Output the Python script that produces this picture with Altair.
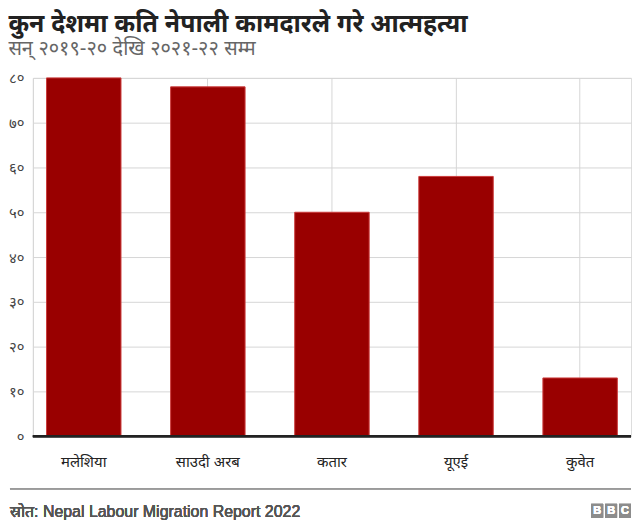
import altair as alt
import pandas as pd

countries = ['मलेशिया', 'साउदी अरब', 'कतार', 'यूएई', 'कुवेत']
suicides = [80, 78, 50, 58, 13]
y_ticks = [0, 10, 20, 30, 40, 50, 60, 70, 80]
y_tick_labels = ['०', '१०', '२०', '३०', '४०', '५०', '६०', '७०', '८०']
title_text = 'कुन देशमा कति नेपाली कामदारले गरे आत्महत्या'
subtitle_text = 'सन् २०१९-२० देखि २०२१-२२ सम्म'
source_text = 'स्रोत: Nepal Labour Migration Report 2022'
logo_letters = ['B', 'B', 'C']

df = pd.DataFrame({'country': countries, 'value': suicides})

label_expr = ('[' + ','.join(f"'{s}'" for s in y_tick_labels) + '][indexof(['
              + ','.join(str(v) for v in y_ticks) + '], datum.value)]')

W, H = 601, 360
FONT = 'Liberation Sans, Noto Sans, sans-serif'

base = alt.Chart(df)

bars = base.mark_bar(color='#990000', stroke='#cc3b3b', strokeWidth=1).encode(
    x=alt.X('country:N', sort=countries,
            scale=alt.Scale(paddingInner=0.4, paddingOuter=0.11),
            axis=alt.Axis(title=None, labelAngle=0, labelFontSize=15, labelColor='#222',
                          labelPadding=18, ticks=False, domain=False, grid=True,
                          gridColor='#d6d6d6', bandPosition=0.5, labelFont=FONT)),
    y=alt.Y('value:Q', scale=alt.Scale(domain=[0, 80], nice=False),
            axis=alt.Axis(values=y_ticks, labelExpr=label_expr, title=None, ticks=False,
                          domainColor='#d6d6d6', gridColor='#d6d6d6', labelPadding=9,
                          labelFontSize=15, labelColor='#444', labelFont=FONT)),
)

baseline = base.mark_rule(color='#222', strokeWidth=2).encode(y=alt.datum(0))

footer_line = base.mark_rule(color='#999', strokeWidth=1).encode(
    x=alt.value(-23), x2=alt.value(W), y=alt.value(413))

footer_text = base.mark_text(align='left', baseline='middle', fontSize=16, color='#555',
                             font=FONT).encode(
    x=alt.value(-23), y=alt.value(436), text=alt.value(source_text))

layers = [bars, baseline, footer_line, footer_text]
for i, letter in enumerate(logo_letters):
    x0 = W - 40 + i * 14
    layers.append(base.mark_rect(color='#8c8c8c').encode(
        x=alt.value(x0), x2=alt.value(x0 + 12), y=alt.value(428), y2=alt.value(442)))
    layers.append(base.mark_text(color='white', fontSize=11, fontWeight='bold',
                                 font='Liberation Sans', baseline='middle').encode(
        x=alt.value(x0 + 6), y=alt.value(435.5), text=alt.value(letter)))

chart = alt.layer(*layers).properties(
    width=W, height=H,
    title=alt.TitleParams(title_text, subtitle=subtitle_text, anchor='start', frame='bounds',
                          fontSize=25, fontWeight='bold', color='#222', font=FONT,
                          subtitleFontSize=20, subtitleColor='#666', subtitleFont=FONT,
                          subtitlePadding=2, offset=12),
    padding={'left': 0, 'top': 3, 'right': 0, 'bottom': 0},
).configure_view(stroke=None).configure(background='white')

chart.save('out.html', embed_options={'renderer': 'svg', 'actions': False})
